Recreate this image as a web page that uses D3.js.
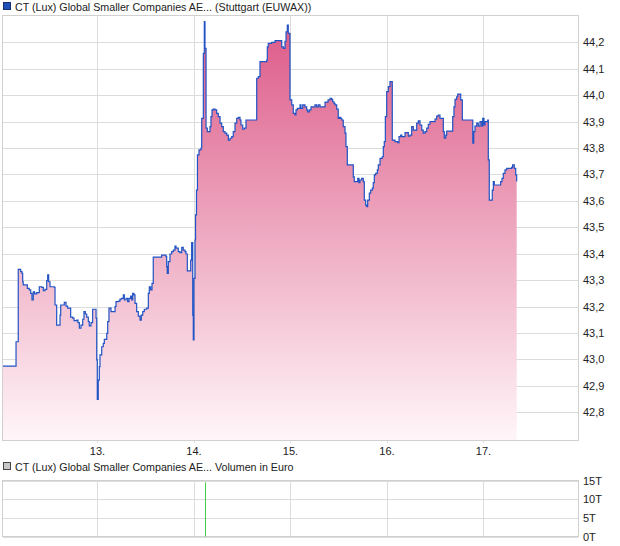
<!DOCTYPE html>
<html>
<head>
<meta charset="utf-8">
<script src="https://cdn.jsdelivr.net/npm/d3@7/dist/d3.min.js"></script>
<style>
  body { margin: 0; background: #fff; }
  text { font-family: "Liberation Sans", Arial, sans-serif; font-size: 11px; fill: #222; }
  text.legend { font-size: 10.7px; }
</style>
</head>
<body>
<svg id="chart" width="620" height="546"></svg>
<script>
// 価格データ (日付の小数 = 日 + 時刻)
var priceDays = [
  12.023, 12.161, 12.161, 12.184, 12.209, 12.223, 12.230, 12.236, 12.272, 12.278,
  12.298, 12.313, 12.326, 12.340, 12.354, 12.375, 12.402, 12.427, 12.444, 12.461,
  12.479, 12.489, 12.499, 12.513, 12.558, 12.565, 12.582, 12.609, 12.617, 12.624,
  12.645, 12.661, 12.679, 12.696, 12.713, 12.727, 12.748, 12.762, 12.790, 12.803,
  12.817, 12.834, 12.852, 12.865, 12.879, 12.893, 12.910, 12.920, 12.938, 12.955,
  12.976, 12.990, 12.997, 13.003, 13.013, 13.024, 13.031, 13.049, 13.065, 13.076,
  13.101, 13.111, 13.124, 13.145, 13.169, 13.187, 13.197, 13.221, 13.238, 13.256,
  13.273, 13.283, 13.301, 13.318, 13.332, 13.349, 13.360, 13.370, 13.383, 13.394,
  13.411, 13.428, 13.446, 13.459, 13.474, 13.490, 13.515, 13.532, 13.542, 13.556,
  13.570, 13.583, 13.660, 13.670, 13.705, 13.715, 13.722, 13.728, 13.739, 13.756,
  13.774, 13.791, 13.808, 13.819, 13.842, 13.860, 13.878, 13.894, 13.912, 13.922,
  13.936, 13.956, 13.971, 13.981, 13.992, 13.998, 14.005, 14.016, 14.021, 14.031,
  14.041, 14.057, 14.078, 14.085, 14.102, 14.112, 14.119, 14.126, 14.130, 14.143,
  14.164, 14.171, 14.181, 14.192, 14.205, 14.223, 14.240, 14.257, 14.275, 14.292,
  14.309, 14.326, 14.344, 14.361, 14.378, 14.396, 14.412, 14.430, 14.448, 14.464,
  14.482, 14.492, 14.510, 14.526, 14.544, 14.648, 14.655, 14.672, 14.689, 14.759,
  14.765, 14.775, 14.810, 14.845, 14.896, 14.914, 14.931, 14.948, 14.959, 14.972,
  14.982, 15.000, 15.018, 15.034, 15.052, 15.062, 15.076, 15.104, 15.114, 15.132,
  15.155, 15.173, 15.183, 15.200, 15.218, 15.259, 15.276, 15.293, 15.311, 15.363,
  15.394, 15.415, 15.432, 15.442, 15.456, 15.466, 15.484, 15.500, 15.511, 15.525,
  15.536, 15.552, 15.570, 15.580, 15.594, 15.646, 15.656, 15.666, 15.691, 15.702,
  15.715, 15.725, 15.743, 15.760, 15.770, 15.784, 15.795, 15.805, 15.822, 15.836,
  15.853, 15.863, 15.874, 15.888, 15.905, 15.915, 15.933, 15.956, 15.967, 15.977,
  15.988, 16.002, 16.019, 16.036, 16.047, 16.060, 16.088, 16.116, 16.130, 16.147,
  16.158, 16.174, 16.192, 16.210, 16.226, 16.244, 16.261, 16.278, 16.295, 16.313,
  16.330, 16.347, 16.365, 16.381, 16.399, 16.417, 16.433, 16.451, 16.485, 16.503,
  16.520, 16.537, 16.554, 16.572, 16.589, 16.599, 16.614, 16.624, 16.676, 16.686,
  16.699, 16.710, 16.727, 16.738, 16.754, 16.769, 16.786, 16.883, 16.894, 16.904,
  16.917, 16.935, 16.951, 16.969, 16.987, 16.997, 17.010, 17.021, 17.049, 17.055,
  17.065, 17.090, 17.096, 17.107, 17.117, 17.169, 17.183, 17.197, 17.210, 17.228,
  17.246, 17.297, 17.307, 17.324, 17.339, 17.349
];
var priceValues = [
  42.975, 42.975, 43.067, 43.341, 43.332, 43.326, 43.294, 43.282, 43.282, 43.269,
  43.263, 43.250, 43.225, 43.256, 43.248, 43.253, 43.275, 43.273, 43.260, 43.265,
  43.298, 43.320, 43.294, 43.275, 43.273, 43.206, 43.130, 43.130, 43.168, 43.206,
  43.206, 43.216, 43.202, 43.194, 43.194, 43.160, 43.156, 43.147, 43.149, 43.139,
  43.118, 43.130, 43.152, 43.181, 43.172, 43.160, 43.143, 43.127, 43.139, 43.190,
  43.190, 43.156, 42.998, 42.849, 42.922, 42.973, 43.017, 43.048, 43.061, 43.076,
  43.099, 43.143, 43.194, 43.181, 43.181, 43.200, 43.219, 43.221, 43.228, 43.231,
  43.244, 43.225, 43.231, 43.219, 43.231, 43.240, 43.225, 43.250, 43.244, 43.212,
  43.181, 43.164, 43.149, 43.168, 43.181, 43.190, 43.194, 43.250, 43.275, 43.263,
  43.288, 43.387, 43.387, 43.395, 43.395, 43.389, 43.351, 43.326, 43.370, 43.399,
  43.408, 43.414, 43.429, 43.421, 43.408, 43.404, 43.424, 43.414, 43.408, 43.399,
  43.335, 43.335, 43.376, 43.442, 43.168, 43.074, 43.307, 43.452, 43.547, 43.641,
  43.774, 43.793, 43.800, 43.912, 44.158, 44.278, 44.177, 44.177, 43.875, 43.862,
  43.862, 43.881, 43.919, 43.944, 43.947, 43.944, 43.931, 43.919, 43.894, 43.881,
  43.862, 43.856, 43.849, 43.830, 43.837, 43.843, 43.862, 43.894, 43.912, 43.916,
  43.906, 43.887, 43.871, 43.875, 43.906, 43.906, 44.064, 44.070, 44.127, 44.133,
  44.183, 44.196, 44.200, 44.206, 44.206, 44.183, 44.177, 44.204, 44.240, 44.265,
  44.234, 43.982, 43.963, 43.931, 43.925, 43.944, 43.950, 43.963, 43.950, 43.963,
  43.956, 43.944, 43.937, 43.944, 43.956, 43.963, 43.956, 43.963, 43.956, 43.974,
  43.982, 43.988, 43.984, 43.975, 43.969, 43.963, 43.947, 43.912, 43.916, 43.912,
  43.906, 43.881, 43.856, 43.805, 43.736, 43.736, 43.691, 43.673, 43.673, 43.685,
  43.669, 43.679, 43.685, 43.673, 43.603, 43.584, 43.578, 43.603, 43.629, 43.641,
  43.648, 43.669, 43.698, 43.704, 43.717, 43.736, 43.761, 43.767, 43.805, 43.824,
  43.919, 44.013, 44.032, 44.051, 44.051, 43.830, 43.824, 43.820, 43.843, 43.849,
  43.843, 43.843, 43.858, 43.858, 43.845, 43.849, 43.881, 43.868, 43.868, 43.894,
  43.903, 43.887, 43.868, 43.856, 43.862, 43.875, 43.890, 43.900, 43.900, 43.909,
  43.921, 43.925, 43.912, 43.912, 43.862, 43.837, 43.849, 43.864, 43.864, 43.919,
  43.956, 43.984, 43.994, 44.004, 44.004, 43.982, 43.906, 43.906, 43.818, 43.862,
  43.883, 43.894, 43.883, 43.900, 43.883, 43.912, 43.887, 43.900, 43.906, 43.755,
  43.603, 43.603, 43.641, 43.673, 43.660, 43.660, 43.673, 43.685, 43.704, 43.717,
  43.723, 43.727, 43.736, 43.723, 43.698, 43.673
];

// 出来高 (ユーロ)
var volumeDays = [14.12];
var volumeValues = [14500];

// 軸の目盛り
var priceTicks = [42.8, 42.9, 43.0, 43.1, 43.2, 43.3, 43.4, 43.5, 43.6, 43.7, 43.8, 43.9, 44.0, 44.1, 44.2];
var dayTicks = [13, 14, 15, 16, 17];
var dayTickLabels = ['13.', '14.', '15.', '16.', '17.'];
var volumeTicks = [0, 5000, 10000, 15000];

var titlePrice = 'CT (Lux) Global Smaller Companies AE... (Stuttgart (EUWAX))';
var titleVolume = 'CT (Lux) Global Smaller Companies AE... Volumen in Euro';

// レイアウト
var left = 3, right = 578;
var pTop = 16, pBottom = 440.5;
var vTop = 480.5, vBottom = 536.5;

var svg = d3.select('#chart');

var x = d3.scaleLinear().domain([13, 17]).range([97, 483]);
var y = d3.scaleLinear().domain([42.8, 44.2]).range([412.3, 42.3]);
var yv = d3.scaleLinear().domain([0, 15000]).range([vBottom, vTop]);

var fmtPrice = function(d) { return d3.format('.1f')(d).replace('.', ','); };
var fmtVol = function(d) { return (d / 1000) + 'T'; };

// グラデーション
var grad = svg.append('defs').append('linearGradient')
  .attr('id', 'fillGrad')
  .attr('gradientUnits', 'userSpaceOnUse')
  .attr('x1', 0).attr('x2', 0)
  .attr('y1', pTop).attr('y2', pBottom);
grad.append('stop').attr('offset', '0%').attr('stop-color', '#dc5886');
grad.append('stop').attr('offset', '100%').attr('stop-color', '#fff6f9');

// 凡例
function legend(yPos, fill, stroke, label) {
  svg.append('rect')
    .attr('x', 3.5).attr('y', yPos - 8.5)
    .attr('width', 7).attr('height', 7)
    .attr('fill', fill).attr('stroke', stroke);
  svg.append('text').attr('class', 'legend').attr('x', 15).attr('y', yPos).text(label);
}
legend(11, '#1f4fb8', '#1a2f6a', titlePrice);
legend(471, '#c8c8c8', '#444', titleVolume);

// 価格パネルのグリッド
var grid = svg.append('g').attr('stroke', '#dcdcdc').attr('shape-rendering', 'crispEdges');
grid.selectAll('.hy').data(priceTicks).enter().append('line')
  .attr('x1', left).attr('x2', right)
  .attr('y1', function(d) { return Math.round(y(d)) + 0.5; })
  .attr('y2', function(d) { return Math.round(y(d)) + 0.5; });
grid.selectAll('.vx').data(dayTicks).enter().append('line')
  .attr('x1', function(d) { return Math.round(x(d)) + 0.5; })
  .attr('x2', function(d) { return Math.round(x(d)) + 0.5; })
  .attr('y1', pTop).attr('y2', pBottom + 2);

// 面と線
var pts = priceDays.map(function(d, i) { return [d, priceValues[i]]; });

var area = d3.area()
  .curve(d3.curveStepAfter)
  .x(function(d) { return x(d[0]); })
  .y0(pBottom)
  .y1(function(d) { return y(d[1]); });

var line = d3.line()
  .curve(d3.curveStepAfter)
  .x(function(d) { return x(d[0]); })
  .y(function(d) { return y(d[1]); });

svg.append('path').datum(pts).attr('d', area).attr('fill', 'url(#fillGrad)');
svg.append('path').datum(pts).attr('d', line)
  .attr('fill', 'none').attr('stroke', '#2153c4').attr('stroke-width', 1.2);

// 枠
svg.append('rect')
  .attr('x', left - 0.5).attr('y', pTop - 0.5)
  .attr('width', right - left + 1).attr('height', pBottom - pTop + 0.5)
  .attr('fill', 'none').attr('stroke', '#d0d0d0').attr('shape-rendering', 'crispEdges');

// 価格軸 (右)
svg.append('g')
  .attr('transform', 'translate(' + (right + 2) + ',0)')
  .call(d3.axisRight(y).tickValues(priceTicks).tickSize(0).tickPadding(3).tickFormat(fmtPrice))
  .call(function(g) { g.select('.domain').remove(); })
  .selectAll('text').attr('font-family', null).attr('font-size', null).attr('fill', null);

// 日付軸
svg.append('g')
  .attr('transform', 'translate(0,' + (pBottom + 4) + ')')
  .call(d3.axisBottom(x).tickValues(dayTicks).tickSize(0).tickPadding(3)
    .tickFormat(function(d, i) { return dayTickLabels[i]; }))
  .call(function(g) { g.select('.domain').remove(); })
  .selectAll('text').attr('font-family', null).attr('font-size', null).attr('fill', null);

// 出来高パネル
var vgrid = svg.append('g').attr('stroke', '#dcdcdc').attr('shape-rendering', 'crispEdges');
vgrid.selectAll('.hy').data(volumeTicks).enter().append('line')
  .attr('x1', left).attr('x2', right)
  .attr('y1', function(d) { return Math.round(yv(d)) + 0.5; })
  .attr('y2', function(d) { return Math.round(yv(d)) + 0.5; });
vgrid.selectAll('.vx').data(dayTicks).enter().append('line')
  .attr('x1', function(d) { return Math.round(x(d)) + 0.5; })
  .attr('x2', function(d) { return Math.round(x(d)) + 0.5; })
  .attr('y1', vTop).attr('y2', vBottom);

svg.append('rect')
  .attr('x', left - 0.5).attr('y', vTop)
  .attr('width', right - left + 1).attr('height', vBottom - vTop)
  .attr('fill', 'none').attr('stroke', '#d0d0d0').attr('shape-rendering', 'crispEdges');

svg.selectAll('rect.vol').data(volumeDays).enter().append('rect')
  .attr('class', 'vol')
  .attr('x', function(d) { return Math.round(x(d)); })
  .attr('width', 1)
  .attr('y', function(d, i) { return yv(volumeValues[i]); })
  .attr('height', function(d, i) { return yv(0) - yv(volumeValues[i]); })
  .attr('fill', '#44cc44');

svg.append('g')
  .attr('transform', 'translate(' + (right + 2) + ',0)')
  .call(d3.axisRight(yv).tickValues(volumeTicks).tickSize(0).tickPadding(3).tickFormat(fmtVol))
  .call(function(g) { g.select('.domain').remove(); })
  .selectAll('text').attr('font-family', null).attr('font-size', null).attr('fill', null);
</script>
</body>
</html>
